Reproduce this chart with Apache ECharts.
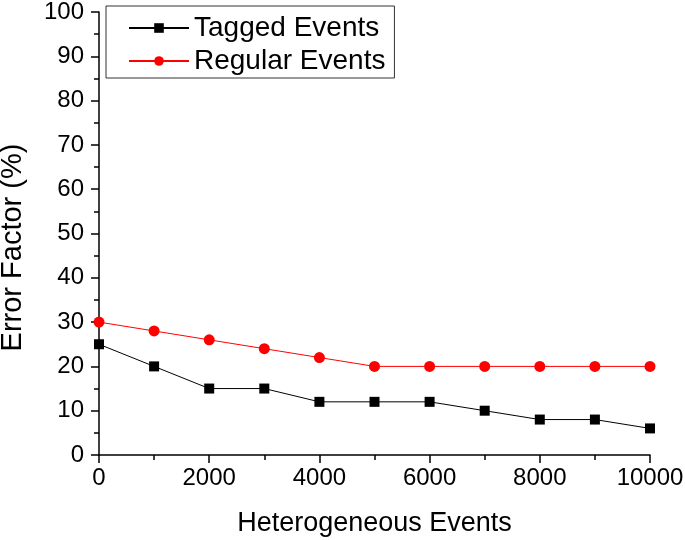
<!DOCTYPE html>
<html><head><meta charset="utf-8">
<script src="https://cdn.jsdelivr.net/npm/echarts@6/dist/echarts.min.js"></script>
<style>html,body{margin:0;padding:0;background:#fff}#c{width:685px;height:540px}</style>
</head><body><div id="c"></div>
<script>
const xValues = [0,1000,2000,3000,4000,5000,6000,7000,8000,9000,10000];
const tagged = [25,20,15,15,12,12,12,10,8,8,6];
const regular = [30,28,26,24,22,20,20,20,20,20,20];
const seriesNames = ['Tagged Events','Regular Events'];
const xTitle = 'Heterogeneous Events';
const yTitle = 'Error Factor (%)';

const chart = echarts.init(document.getElementById('c'));
const font = 'Liberation Sans, Arial, sans-serif';
chart.setOption({
  animation:false,
  grid:{left:99,right:35,top:12,bottom:85,containLabel:false,outerBoundsMode:'none'},
  legend:{
    left:106, top:6, orient:'vertical',
    borderColor:'#333', borderWidth:1, padding:[8,9,3,22],
    itemWidth:60, itemHeight:12, itemGap:5,
    textStyle:{fontFamily:font,fontSize:28,color:'#000'},
    data:seriesNames
  },
  xAxis:{
    type:'value', min:0, max:10000, interval:2000,
    name:xTitle, nameLocation:'middle', nameGap:55,
    nameTextStyle:{fontFamily:font,fontSize:27,color:'#000'},
    axisLine:{lineStyle:{color:'#000',width:1.5}},
    axisTick:{inside:false,length:8,lineStyle:{color:'#000',width:1.5}},
    minorTick:{show:true,splitNumber:2,length:5,lineStyle:{color:'#000',width:1.5}},
    axisLabel:{fontFamily:font,fontSize:24,color:'#000',margin:11,formatter:v=>String(v)},
    splitLine:{show:false}
  },
  yAxis:{
    type:'value', min:0, max:100, interval:10,
    name:yTitle, nameLocation:'middle', nameGap:72, nameRotate:90,
    nameTextStyle:{fontFamily:font,fontSize:29,color:'#000',padding:[0,28,0,0]},
    axisLine:{show:true,lineStyle:{color:'#000',width:1.5}},
    axisTick:{show:true,length:8,lineStyle:{color:'#000',width:1.5}},
    minorTick:{show:true,splitNumber:2,length:5,lineStyle:{color:'#000',width:1.5}},
    axisLabel:{fontFamily:font,fontSize:24,color:'#000',margin:15},
    splitLine:{show:false}
  },
  series:[
    {name:seriesNames[0],type:'line',data:xValues.map((x,i)=>[x,tagged[i]]),
     symbol:'rect',symbolSize:10,itemStyle:{color:'#000'},lineStyle:{color:'#000',width:1},clip:true},
    {name:seriesNames[1],type:'line',data:xValues.map((x,i)=>[x,regular[i]]),
     symbol:'circle',symbolSize:11,itemStyle:{color:'#ff0000'},lineStyle:{color:'#ff0000',width:1},clip:true}
  ]
});
</script></body></html>
